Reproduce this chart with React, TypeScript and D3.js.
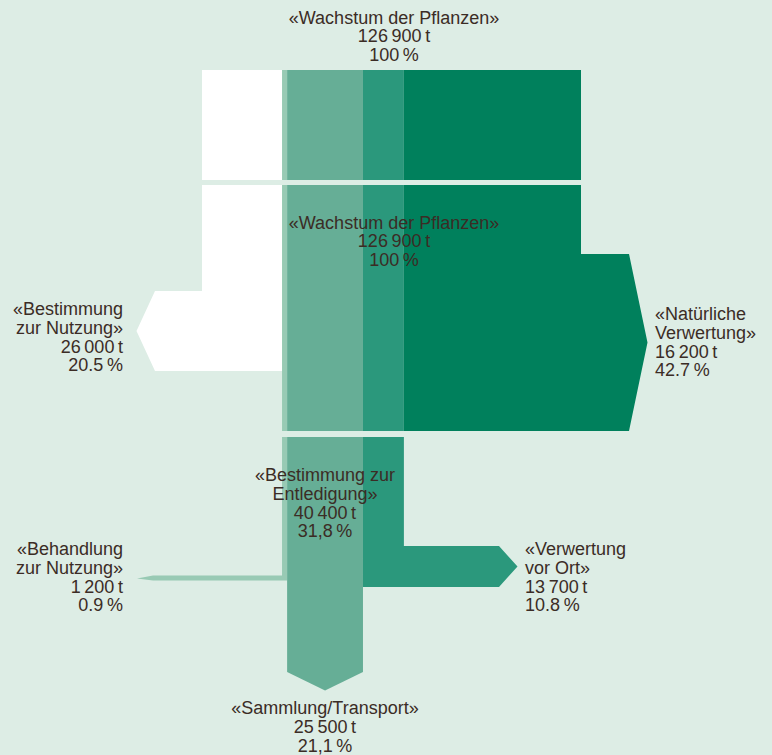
import React from "react";
import * as d3 from "d3";

// ---- data ----
// flow band widths in tonnes (left → right across the top block)
const bandNames = ["Bestimmung zur Nutzung", "Behandlung zur Nutzung", "Sammlung/Transport", "Verwertung vor Ort", "Natürliche Verwertung"];
const bandTonnes = [26800, 1700, 25400, 13700, 59300];
const totalTonnes = 126900;

// labels
const labelNameLines = [
  ["«Wachstum der Pflanzen»"],
  ["«Wachstum der Pflanzen»"],
  ["«Bestimmung", "zur Nutzung»"],
  ["«Natürliche", "Verwertung»"],
  ["«Bestimmung zur", "Entledigung»"],
  ["«Behandlung", "zur Nutzung»"],
  ["«Verwertung", "vor Ort»"],
  ["«Sammlung/Transport»"],
];
const labelTonnes = [126900, 126900, 26000, 16200, 40400, 1200, 13700, 25500];
const labelPercents = ["100\u2009%", "100\u2009%", "20.5\u2009%", "42.7\u2009%", "31,8\u2009%", "0.9\u2009%", "10.8\u2009%", "21,1\u2009%"];

// ---- styles / layout ----
const W = 772;
const H = 755;
const BG = "#ddede5";
const TEXT = "#3b2c25";
const bandColors = ["#ffffff", "#98cab4", "#66ae96", "#2b987c", "#00805c"];
const FONT = "'Liberation Sans', Arial, sans-serif";
const FS = 18;
const LH = 18.8;

const labelPos = [
  { x: 394, y: 23.5, anchor: "middle" },
  { x: 394, y: 228.5, anchor: "middle" },
  { x: 123, y: 315, anchor: "end" },
  { x: 655, y: 320, anchor: "start" },
  { x: 325, y: 481, anchor: "middle" },
  { x: 123, y: 555, anchor: "end" },
  { x: 525, y: 555, anchor: "start" },
  { x: 325, y: 714, anchor: "middle" },
];

const locale = d3.formatLocale({ decimal: ",", thousands: "\u2009", grouping: [3], currency: ["", ""] });
const fmtT = (v: number) => locale.format(",")(v) + "\u2009t";

export default function App() {
  const x = d3.scaleLinear().domain([0, totalTonnes]).range([202, 581]);
  const cum = [0, ...d3.cumsum(bandTonnes)];
  const x0 = bandTonnes.map((_, i) => x(cum[i]));
  const x1 = bandTonnes.map((_, i) => x(cum[i + 1]));
  const wd = bandTonnes.map((_, i) => x1[i] - x0[i]);

  const s1 = [70, 180];
  const s2 = [185, 431];
  const s3top = 437;
  const tip = 18.5;

  const line = d3.line();
  const poly = (pts: [number, number][]) => (line(pts) as string) + "Z";

  const shapes: { d: string; fill: string }[] = [];
  // stage 1: all bands
  bandTonnes.forEach((_, i) => {
    shapes.push({ d: poly([[x0[i], s1[0]], [x1[i], s1[0]], [x1[i], s1[1]], [x0[i], s1[1]]]), fill: bandColors[i] });
  });
  // stage 2
  {
    const i = 0; // turns left
    const bot = 371;
    const top = bot - wd[i];
    const end = 155;
    shapes.push({
      d: poly([[x0[i], s2[0]], [x1[i], s2[0]], [x1[i], bot], [end, bot], [end - tip, (top + bot) / 2], [end, top], [x0[i], top]]),
      fill: bandColors[i],
    });
  }
  [1, 2, 3].forEach((i) => {
    shapes.push({ d: poly([[x0[i], s2[0]], [x1[i], s2[0]], [x1[i], s2[1]], [x0[i], s2[1]]]), fill: bandColors[i] });
  });
  {
    const i = 4; // turns right
    const bot = s2[1];
    const top = bot - wd[i];
    const end = 629;
    shapes.push({
      d: poly([[x0[i], s2[0]], [x1[i], s2[0]], [x1[i], top], [end, top], [end + tip, (top + bot) / 2], [end, bot], [x0[i], bot]]),
      fill: bandColors[i],
    });
  }
  // stage 3
  {
    const i = 1; // thin, turns left
    const bot = 580.6;
    const top = bot - wd[i];
    const end = 153;
    shapes.push({
      d: poly([[x0[i], s3top], [x1[i], s3top], [x1[i], bot], [end, bot], [end - 16, (top + bot) / 2 + 0.5], [end, top], [x0[i], top]]),
      fill: bandColors[i],
    });
  }
  {
    const i = 2; // goes down
    const end = 672;
    const mid = (x0[i] + x1[i]) / 2;
    shapes.push({
      d: poly([[x0[i], s3top], [x1[i], s3top], [x1[i], end], [mid, end + tip], [x0[i], end]]),
      fill: bandColors[i],
    });
  }
  {
    const i = 3; // turns right
    const bot = 587;
    const top = bot - wd[i];
    const end = 499;
    shapes.push({
      d: poly([[x0[i], s3top], [x1[i], s3top], [x1[i], top], [end, top], [end + tip, (top + bot) / 2], [end, bot], [x0[i], bot]]),
      fill: bandColors[i],
    });
  }

  return (
    <svg
      width={W}
      height={H}
      viewBox={`0 0 ${W} ${H}`}
      style={{ position: "absolute", left: 0, top: 0, display: "block" }}
    >
      <rect x={0} y={0} width={W} height={H} fill={BG} />
      <g>
        {shapes.map((s, k) => (
          <path key={k} d={s.d} fill={s.fill} />
        ))}
      </g>
      <g fontFamily={FONT} fontSize={FS} fill={TEXT}>
        {labelNameLines.map((nl, k) => {
          const lines = [...nl, fmtT(labelTonnes[k]), labelPercents[k]];
          const p = labelPos[k];
          return (
            <text key={k} x={p.x} y={p.y} textAnchor={p.anchor}>
              {lines.map((t, j) => (
                <tspan key={j} x={p.x} y={p.y + j * LH}>
                  {t}
                </tspan>
              ))}
            </text>
          );
        })}
      </g>
    </svg>
  );
}
